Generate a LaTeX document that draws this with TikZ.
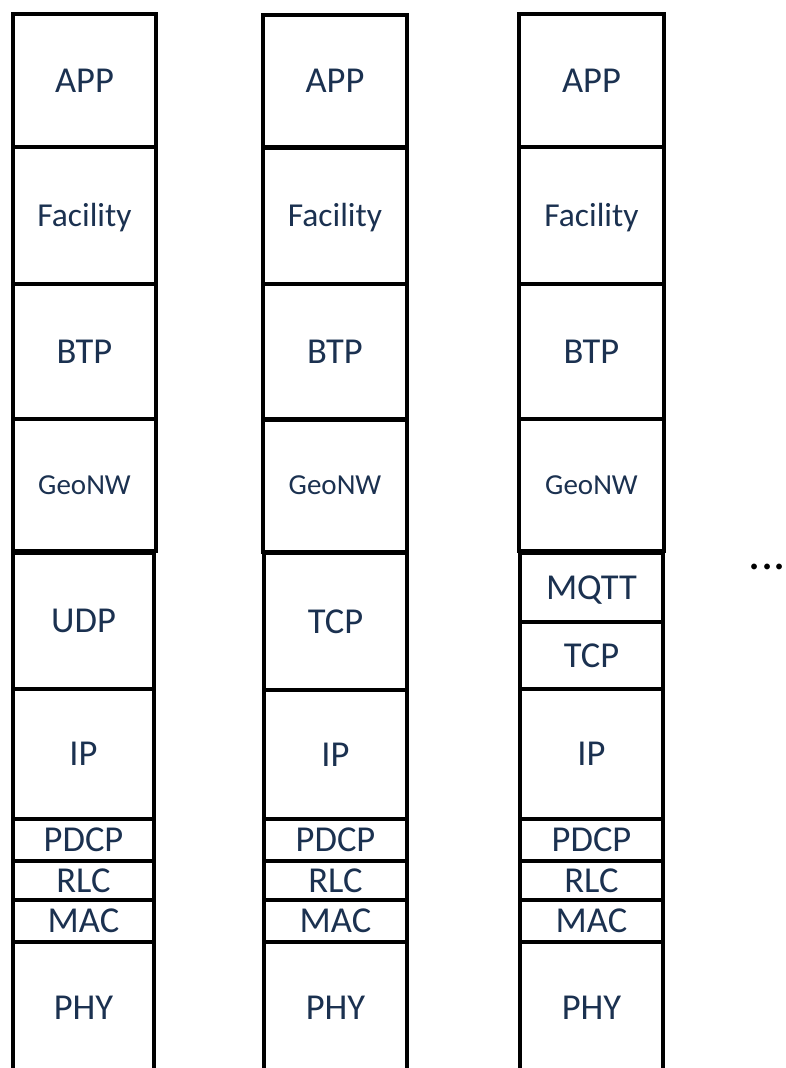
\documentclass[tikz,border=0pt]{standalone}
\usepackage{fontspec}
\setmainfont{Carlito}
\definecolor{txt}{HTML}{1B3150}
\tikzset{
  layer/.style={draw=black, line width=4pt, inner sep=0pt, outer sep=0pt, text=txt,
    text height=23pt, text depth=0pt, font=\fontsize{36.5}{40}\selectfont},
  mid/.style={font=\fontsize{33.5}{36}\selectfont, text height=21pt},
  small/.style={font=\fontsize{29}{32}\selectfont, text height=18.5pt},
  up1/.style={minimum width=143pt},
  lo1/.style={minimum width=141pt},
  up2/.style={minimum width=144pt},
  lo2/.style={minimum width=143pt},
  up3/.style={minimum width=145pt},
  lo3/.style={minimum width=143pt},
  dots/.style={inner sep=0pt, text=black, font=\fontsize{48}{48}\selectfont}
}
\begin{document}
\begin{tikzpicture}[x=1pt,y=-1pt]
\useasboundingbox (0,0) rectangle (786,1068);
% column 1
\node[layer,up1,minimum height=133pt] (a1) at (84.5,80.5) {APP};
\node[layer,up1,mid,minimum height=137pt] (f1) at (84.5,215.5) {Facility};
\node[layer,up1,minimum height=135pt] (b1) at (84.5,351.5) {BTP};
\node[layer,up1,small,minimum height=132pt] (g1) at (84.5,485) {GeoNW};
\node[layer,lo1,minimum height=136pt] (u1) at (83.5,621) {UDP};
\node[layer,lo1,minimum height=130pt] (i1) at (83.5,754) {IP};
\node[layer,lo1,minimum height=42pt] (p1) at (83.5,840) {PDCP};
\node[layer,lo1,minimum height=39pt] (r1) at (83.5,880.5) {RLC};
\node[layer,lo1,minimum height=42pt] (m1) at (83.5,921) {MAC};
\node[layer,lo1,minimum height=132pt] (h1) at (83.5,1008) {PHY};
% column 2
\node[layer,up2,minimum height=133pt] (a2) at (335,81) {APP};
\node[layer,up2,mid,minimum height=137pt] (f2) at (335,215.5) {Facility};
\node[layer,up2,minimum height=135pt] (b2) at (335,351.5) {BTP};
\node[layer,up2,small,minimum height=132pt] (g2) at (335,485.5) {GeoNW};
\node[layer,lo2,minimum height=137pt] (t2) at (335.5,621.5) {TCP};
\node[layer,lo2,minimum height=129pt] (i2) at (335.5,754.5) {IP};
\node[layer,lo2,minimum height=42pt] (p2) at (335.5,840) {PDCP};
\node[layer,lo2,minimum height=39pt] (r2) at (335.5,880.5) {RLC};
\node[layer,lo2,minimum height=42pt] (m2) at (335.5,921) {MAC};
\node[layer,lo2,minimum height=132pt] (h2) at (335.5,1008) {PHY};
% column 3
\node[layer,up3,minimum height=133pt] (a3) at (591.5,80.5) {APP};
\node[layer,up3,mid,minimum height=137pt] (f3) at (591.5,215.5) {Facility};
\node[layer,up3,minimum height=135pt] (b3) at (591.5,351.5) {BTP};
\node[layer,up3,small,minimum height=132pt] (g3) at (591.5,485) {GeoNW};
\node[layer,lo3,minimum height=69pt] (q3) at (591.5,587.5) {MQTT};
\node[layer,lo3,minimum height=67pt] (t3) at (591.5,655.5) {TCP};
\node[layer,lo3,minimum height=130pt] (i3) at (591.5,754) {IP};
\node[layer,lo3,minimum height=42pt] (p3) at (591.5,840) {PDCP};
\node[layer,lo3,minimum height=39pt] (r3) at (591.5,880.5) {RLC};
\node[layer,lo3,minimum height=42pt] (m3) at (591.5,921) {MAC};
\node[layer,lo3,minimum height=132pt] (h3) at (591.5,1008) {PHY};
% ellipsis
\node[dots,anchor=base east] (more) at (785.5,569.5) {...};
\end{tikzpicture}
\end{document}
